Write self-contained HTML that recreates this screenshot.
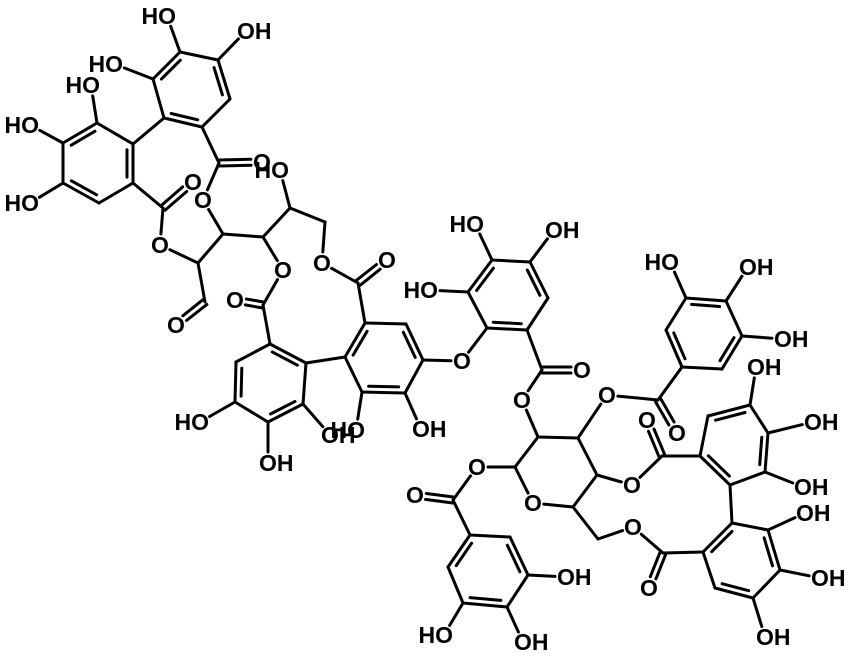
<!DOCTYPE html>
<html><head><meta charset="utf-8"><style>
html,body{margin:0;padding:0;background:#fff;}
svg{display:block;}
text{font-family:"Liberation Sans",sans-serif;font-weight:bold;font-size:23px;fill:#000;}
</style></head><body>
<svg id="s" width="850" height="656" viewBox="0 0 850 656" xmlns="http://www.w3.org/2000/svg">
<g id="bonds" stroke="#000" stroke-width="3" stroke-linecap="round" fill="none"></g>
<g id="labels">
<text x="176" y="24" text-anchor="end">HO</text>
<text x="237" y="39">OH</text>
<text x="123" y="72" text-anchor="end">HO</text>
<text x="100" y="93" text-anchor="end">HO</text>
<text x="39" y="133" text-anchor="end">HO</text>
<text x="39" y="211" text-anchor="end">HO</text>
<text x="262" y="170" text-anchor="middle">O</text>
<text x="289" y="178" text-anchor="end">HO</text>
<text x="203" y="208" text-anchor="middle">O</text>
<text x="193" y="190" text-anchor="middle">O</text>
<text x="160" y="253" text-anchor="middle">O</text>
<text x="176" y="333" text-anchor="middle">O</text>
<text x="283" y="278" text-anchor="middle">O</text>
<text x="322" y="271" text-anchor="middle">O</text>
<text x="387" y="268" text-anchor="middle">O</text>
<text x="235" y="308" text-anchor="middle">O</text>
<text x="462" y="369" text-anchor="middle">O</text>
<text x="412" y="437">OH</text>
<text x="321" y="443">OH</text>
<text x="365" y="438" text-anchor="end">HO</text>
<text x="209" y="430" text-anchor="end">HO</text>
<text x="259" y="471">OH</text>
<text x="438" y="298" text-anchor="end">HO</text>
<text x="484" y="232" text-anchor="end">HO</text>
<text x="545" y="238">OH</text>
<text x="582" y="378" text-anchor="middle">O</text>
<text x="522" y="408" text-anchor="middle">O</text>
<text x="607" y="403" text-anchor="middle">O</text>
<text x="632" y="493" text-anchor="middle">O</text>
<text x="633" y="535" text-anchor="middle">O</text>
<text x="477" y="475" text-anchor="middle">O</text>
<text x="533" y="511" text-anchor="middle">O</text>
<text x="415" y="503" text-anchor="middle">O</text>
<text x="557" y="585">OH</text>
<text x="514" y="650">OH</text>
<text x="453" y="643" text-anchor="end">HO</text>
<text x="677" y="441" text-anchor="middle">O</text>
<text x="647" y="428" text-anchor="middle">O</text>
<text x="649" y="596" text-anchor="middle">O</text>
<text x="747" y="375">OH</text>
<text x="804" y="430">OH</text>
<text x="794" y="495">OH</text>
<text x="796" y="521">OH</text>
<text x="811" y="586">OH</text>
<text x="756" y="645">OH</text>
<text x="679" y="270" text-anchor="end">HO</text>
<text x="739" y="275">OH</text>
<text x="774" y="347">OH</text>
</g>
</svg>
<script>
var A={
a1:[180,52],a2:[218,60],a3:[230,99],a4:[202,127],a5:[164,118],a6:[153,79],
b1:[97,123],b2:[63,143],b3:[63,183],b4:[99,203],b5:[133,183],b6:[133,144],
c1:[365,323],c2:[406,324],c3:[423,360],c4:[405,393],c5:[362,392],c6:[345,357],
d1:[306,363],d2:[270,344],d3:[236,362],d4:[235,402],d5:[268,422],d6:[303,404],
e1:[487,328],e2:[468,292],e3:[492,260],e4:[530,262],e5:[548,298],e6:[527,330],
g1:[470,535],g2:[510,537],g3:[528,575],g4:[507,607],g5:[463,603],g6:[448,567],
h1:[682,367],h2:[666,330],h3:[686,298],h4:[726,301],h5:[742,336],h6:[722,369],
i1:[700,456],i2:[708,416],i3:[750,405],i4:[768,433],i5:[765,472],i6:[730,485],
j1:[732,523],j2:[768,530],j3:[780,570],j4:[753,598],j5:[715,588],j6:[703,552],
s1:[538,437],s2:[578,438],s3:[597,475],s4:[573,507],s5:[515,467],
ca:[219,163],cb:[163,208],x1:[198,263],xc:[205,302],x2:[223,234],x3:[263,237],x4:[290,208],x5:[325,222],
cc:[358,283],cd:[263,305],ce:[542,370],cg:[453,500],ch:[658,400],ci:[662,456],cj:[663,553],s6:[598,539]
};
var L={
o1:[167,16],o2:[246,31],o3:[114,64],o4:[91,85],o5:[30,125],o6:[30,203],o7:[262,162],o8:[280,170],o9:[203,200],
o10:[193,182],o11:[160,245],o12:[176,325],o13:[283,270],o14:[322,263],o15:[387,260],o16:[235,300],o17:[462,361],
o18:[421,429],o19:[356,430],o19b:[330,435],o20:[200,422],o21:[268,463],o22:[429,290],o23:[475,224],o24:[554,230],
o25:[582,370],o26:[522,400],o27:[607,395],o28:[632,485],o29:[633,527],o30:[477,467],o31:[533,503],o32:[415,495],
o33:[566,577],o34:[523,642],o35:[444,635],o36:[677,433],o37:[647,420],o38:[649,588],o39:[756,367],o40:[813,422],
o41:[803,487],o42:[805,513],o43:[820,578],o44:[765,637],o45:[670,262],o46:[748,267],o47:[783,339]
};
for(var k in L)A[k]=L[k];
var rings={a:'a',b:'b',c:'c',d:'d',e:'e',g:'g',h:'h',i:'i',j:'j'};
var single=[];
['a','b','c','d','e','g','h','i','j'].forEach(function(r){for(var n=1;n<=6;n++)single.push([r+n,r+(n%6+1)]);});
single=single.concat([
['a5','b6'],['a1','o1'],['a2','o2'],['a6','o3'],['b1','o4'],['b2','o5'],['b3','o6'],
['a4','ca'],['ca','o9'],['b5','cb'],['cb','o11'],['o11','x1'],['x1','xc'],['x1','x2'],['x2','o9'],['x2','x3'],['x3','o13'],['x3','x4'],['x4','o8'],['x4','x5'],['x5','o14'],['o14','cc'],['cc','c1'],
['c6','d1'],['c3','o17'],['c4','o18'],['c5','o19'],['d2','cd'],['cd','o13'],['d4','o20'],['d5','o21'],['d6','o19b'],
['o17','e1'],['e2','o22'],['e3','o23'],['e4','o24'],['e6','ce'],['ce','o26'],['o26','s1'],
['s1','s2'],['s2','s3'],['s3','s4'],['s4','o31'],['o31','s5'],['s5','s1'],['s2','o27'],['s3','o28'],['s4','s6'],['s6','o29'],['s5','o30'],
['o30','cg'],['cg','g1'],['g3','o33'],['g4','o34'],['g5','o35'],
['o27','ch'],['ch','h1'],['h3','o45'],['h4','o46'],['h5','o47'],
['o28','ci'],['ci','i1'],['i3','o39'],['i4','o40'],['i5','o41'],['i6','j1'],
['j2','o42'],['j3','o43'],['j4','o44'],['j6','cj'],['cj','o29']
]);
var inner=[['a1','a6'],['a2','a3'],['a4','a5'],['b1','b2'],['b3','b4'],['b5','b6'],['c6','c1'],['c2','c3'],['c4','c5'],
['d1','d2'],['d3','d4'],['d5','d6'],['e2','e3'],['e4','e5'],['e6','e1'],['g1','g6'],['g2','g3'],['g4','g5'],
['h1','h2'],['h3','h4'],['h5','h6'],['i2','i3'],['i4','i5'],['i6','i1'],['j1','j6'],['j2','j3'],['j4','j5']];
var dbl=[['ca','o7'],['cb','o10'],['xc','o12'],['cc','o15'],['cd','o16'],['ce','o25'],['cg','o32'],['ch','o36'],['ci','o37'],['cj','o38']];
var g=document.getElementById('bonds'),out='';
function isL(n){return n.charAt(0)=='o';}
function seg(p,q,a,b){var x1=p[0],y1=p[1],x2=q[0],y2=q[1],dx=x2-x1,dy=y2-y1,l=Math.hypot(dx,dy);
 var s1=isL(a)?11:0,s2=isL(b)?11:0;
 return [x1+dx*s1/l,y1+dy*s1/l,x2-dx*s2/l,y2-dy*s2/l];}
function line(c){out+='<line x1="'+c[0].toFixed(1)+'" y1="'+c[1].toFixed(1)+'" x2="'+c[2].toFixed(1)+'" y2="'+c[3].toFixed(1)+'"/>';}
single.forEach(function(b){line(seg(A[b[0]],A[b[1]],b[0],b[1]));});
inner.forEach(function(b){var r=b[0].charAt(0),cx=0,cy=0;for(var n=1;n<=6;n++){cx+=A[r+n][0];cy+=A[r+n][1];}cx/=6;cy/=6;
 var p=A[b[0]],q=A[b[1]],mx=(p[0]+q[0])/2,my=(p[1]+q[1])/2,dx=cx-mx,dy=cy-my,l=Math.hypot(dx,dy),o=6;
 var ox=dx/l*o,oy=dy/l*o,ex=(q[0]-p[0])*0.15,ey=(q[1]-p[1])*0.15;
 line([p[0]+ox+ex,p[1]+oy+ey,q[0]+ox-ex,q[1]+oy-ey]);});
dbl.forEach(function(b){var c=seg(A[b[0]],A[b[1]],b[0],b[1]),dx=c[2]-c[0],dy=c[3]-c[1],l=Math.hypot(dx,dy),nx=-dy/l*3,ny=dx/l*3;
 line([c[0]+nx,c[1]+ny,c[2]+nx,c[3]+ny]);line([c[0]-nx,c[1]-ny,c[2]-nx,c[3]-ny]);});
g.innerHTML=out;
</script>
</body></html>
